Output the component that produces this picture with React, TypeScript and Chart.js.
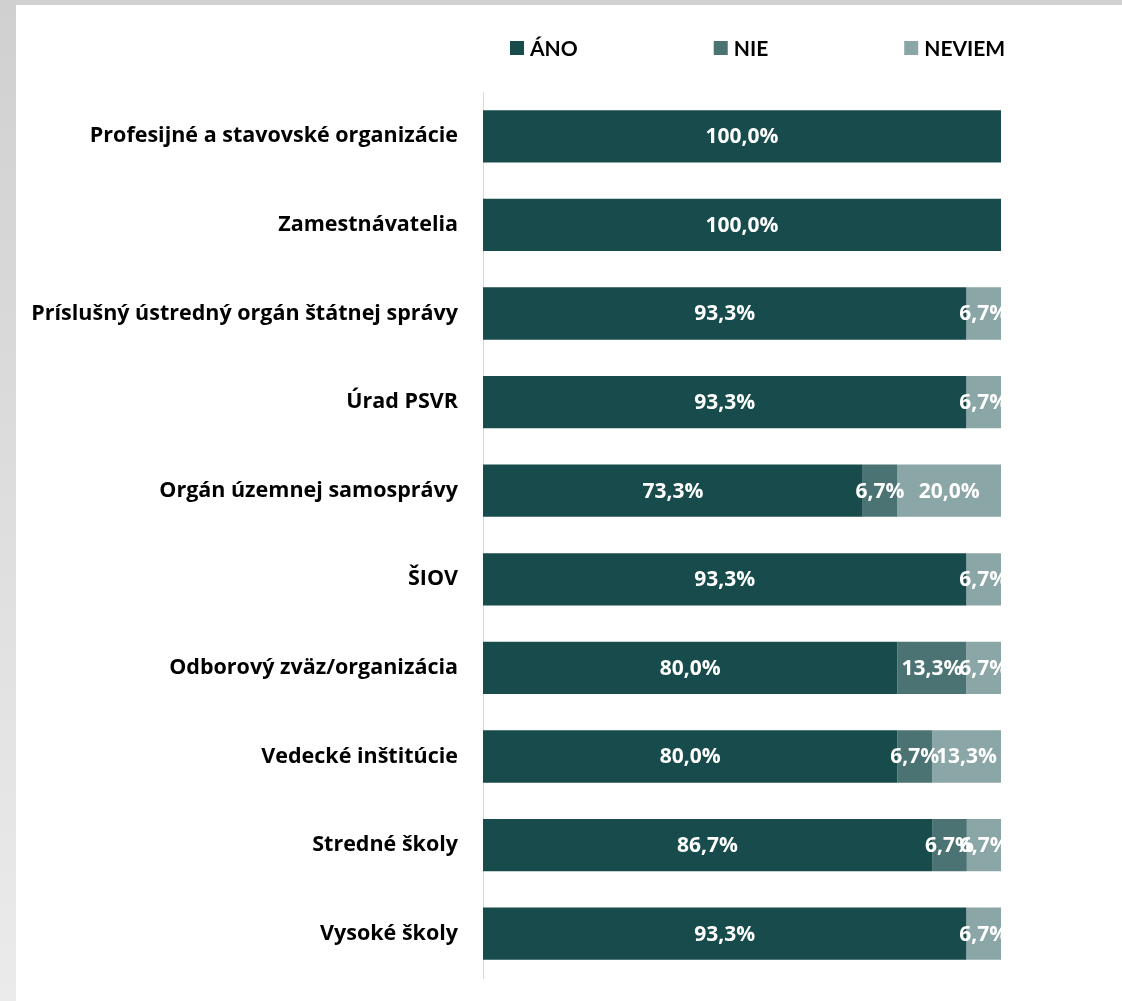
import React, { useEffect, useRef } from "react";
import { Chart, registerables } from "chart.js";

Chart.register(...registerables);

const categories = [
  "Profesijné a stavovské organizácie",
  "Zamestnávatelia",
  "Príslušný ústredný orgán štátnej správy",
  "Úrad PSVR",
  "Orgán územnej samosprávy",
  "ŠIOV",
  "Odborový zväz/organizácia",
  "Vedecké inštitúcie",
  "Stredné školy",
  "Vysoké školy",
];

const seriesNames = ["ÁNO", "NIE", "NEVIEM"];
const anoValues = [100.0, 100.0, 93.3, 93.3, 73.3, 93.3, 80.0, 80.0, 86.7, 93.3];
const nieValues = [0, 0, 0, 0, 6.7, 0, 13.3, 6.7, 6.7, 0];
const neviemValues = [0, 0, 6.7, 6.7, 20.0, 6.7, 6.7, 13.3, 6.7, 6.7];
const seriesColors = ["#184B4B", "#4B7373", "#8BA6A6"];

const LABEL_FONT = "'Open Sans', Lato, sans-serif";
const LEGEND_FONT = "Lato, 'Open Sans', sans-serif";

const fmt = (v: number) => v.toFixed(1).replace(".", ",") + "%";

const segLabelPlugin = {
  id: "segLabels",
  afterDatasetsDraw(chart: any) {
    const { ctx, chartArea } = chart;
    ctx.save();
    ctx.beginPath();
    ctx.rect(chartArea.left, chartArea.top, chartArea.right - chartArea.left + 2, chartArea.bottom - chartArea.top);
    ctx.clip();
    ctx.font = `bold 21px ${LABEL_FONT}`;
    ctx.fillStyle = "#ffffff";
    ctx.textAlign = "center";
    ctx.textBaseline = "middle";
    chart.data.datasets.forEach((ds: any, di: number) => {
      const meta = chart.getDatasetMeta(di);
      meta.data.forEach((el: any, i: number) => {
        const v = ds.data[i];
        if (!v) return;
        const p = el.getProps(["x", "base", "y"], true);
        ctx.fillText(fmt(v), (p.x + p.base) / 2, p.y + 1);
      });
    });
    ctx.restore();
  },
};

const legendPlugin = {
  id: "customLegend",
  afterDraw(chart: any) {
    const { ctx, chartArea } = chart;
    ctx.save();
    ctx.font = `bold 21px ${LEGEND_FONT}`;
    ctx.textBaseline = "middle";
    ctx.textAlign = "left";
    const box = 14;
    const boxGap = 6;
    const itemGap = 136;
    let x = chartArea.left + 27;
    const yMid = 43;
    chart.data.datasets.forEach((ds: any) => {
      ctx.fillStyle = ds.backgroundColor;
      ctx.fillRect(x, yMid - box / 2, box, box);
      ctx.fillStyle = "#000000";
      ctx.fillText(ds.label, x + box + boxGap, yMid + 1);
      const w = ctx.measureText(ds.label).width;
      x += box + boxGap + w + itemGap;
    });
    ctx.restore();
  },
};

export default function App() {
  const ref = useRef<HTMLCanvasElement | null>(null);

  useEffect(() => {
    document.body.style.margin = "0";
    if (!ref.current) return;
    const chart = new Chart(ref.current, {
      type: "bar",
      data: {
        labels: categories,
        datasets: [
          { label: seriesNames[0], data: anoValues, backgroundColor: seriesColors[0] },
          { label: seriesNames[1], data: nieValues, backgroundColor: seriesColors[1] },
          { label: seriesNames[2], data: neviemValues, backgroundColor: seriesColors[2] },
        ],
      },
      options: {
        indexAxis: "y",
        responsive: false,
        animation: false,
        events: [],
        layout: { padding: { top: 87, bottom: 23, left: 0, right: 121 } },
        datasets: {
          bar: { categoryPercentage: 1, barPercentage: 0.59, borderWidth: 0 },
        },
        plugins: {
          legend: { display: false },
          tooltip: { enabled: false },
        },
        scales: {
          x: {
            stacked: true,
            min: 0,
            max: 100,
            display: false,
          },
          y: {
            stacked: true,
            grid: { display: false, drawTicks: false },
            border: { display: true, color: "#d9d9d9", width: 1 },
            ticks: {
              color: "#000000",
              padding: 25,
              font: { family: LABEL_FONT, size: 21.5, weight: "bold" },
            },
            afterFit(scale: any) {
              scale.width = 467;
              scale.paddingTop = 0;
              scale.paddingBottom = 0;
            },
          },
        },
      },
      plugins: [segLabelPlugin, legendPlugin],
    } as any);
    return () => chart.destroy();
  }, []);

  return (
    <div
      style={{
        position: "relative",
        width: 1122,
        height: 1001,
        background: "linear-gradient(to bottom, #d0d0d0, #ebebeb)",
        overflow: "hidden",
      }}
    >
      <div
        style={{
          position: "absolute",
          left: 16,
          top: 5,
          width: 1106,
          height: 996,
          background: "#ffffff",
        }}
      >
        <canvas ref={ref} width={1106} height={996} style={{ display: "block" }} />
      </div>
    </div>
  );
}
